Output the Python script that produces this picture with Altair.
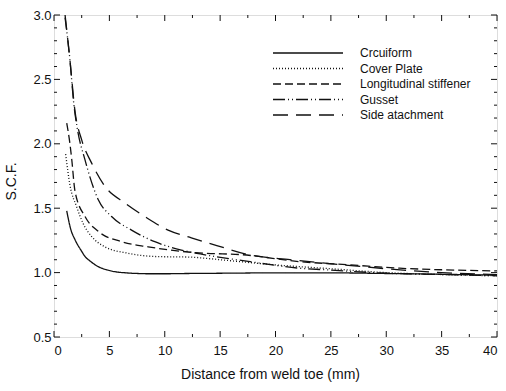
import altair as alt
import pandas as pd

series_names = ["Crcuiform", "Cover Plate", "Longitudinal stiffener", "Gusset", "Side atachment"]

cruciform_x = [1.15, 1.5, 1.9, 2.5, 2.8, 3.25, 4.0, 4.75, 5.5, 6.5, 7.6, 8.5, 10, 12, 15, 20, 25, 30, 35, 40]
cruciform_y = [1.48, 1.34, 1.255, 1.165, 1.125, 1.09, 1.046, 1.022, 1.007, 0.998, 0.993, 0.991, 0.991, 0.993, 0.995, 0.998, 0.998, 0.993, 0.987, 0.98]

cover_x = [1.05, 1.44, 2.05, 2.64, 3.4, 4.6, 6.7, 9.1, 12.4, 13.8, 16.8, 20, 25, 30, 35, 40]
cover_y = [1.92, 1.68, 1.51, 1.38, 1.28, 1.20, 1.15, 1.125, 1.12, 1.11, 1.085, 1.06, 1.03, 1.0, 0.985, 0.975]

long_x = [1.15, 1.44, 1.6, 1.9, 2.8, 4.0, 6.1, 8.5, 12.1, 13.8, 16.8, 22.2, 26.7, 31.2, 35, 40]
long_y = [2.16, 2.0, 1.88, 1.63, 1.435, 1.32, 1.24, 1.20, 1.16, 1.15, 1.14, 1.085, 1.06, 1.034, 1.022, 1.013]

gusset_x = [1.0, 1.44, 1.8, 2.1, 2.8, 4.0, 5.2, 7.0, 9.1, 11.5, 13.2, 17.7, 22.2, 24.9, 30, 35, 40]
gusset_y = [2.98, 2.65, 2.3, 2.12, 1.875, 1.565, 1.435, 1.33, 1.24, 1.175, 1.145, 1.085, 1.034, 1.02, 0.995, 0.985, 0.975]

side_x = [1.0, 1.44, 1.9, 2.5, 3.4, 4.6, 6.4, 8.2, 10.3, 12.4, 14.7, 17.7, 21.3, 24.9, 30, 35, 40]
side_y = [3.0, 2.65, 2.25, 2.03, 1.85, 1.67, 1.54, 1.435, 1.33, 1.27, 1.21, 1.137, 1.10, 1.07, 1.03, 1.0, 0.985]

x_major = [0, 5, 10, 15, 20, 25, 30, 35, 40]
x_minor = [2.5, 7.5, 12.5, 17.5, 22.5, 27.5, 32.5, 37.5]
y_major = [0.5, 1.0, 1.5, 2.0, 2.5, 3.0]
y_minor = [0.6, 0.7, 0.8, 0.9, 1.1, 1.2, 1.3, 1.4, 1.6, 1.7, 1.8, 1.9,
           2.1, 2.2, 2.3, 2.4, 2.6, 2.7, 2.8, 2.9]

rows = []
for name, xs, ys in zip(series_names,
                        [cruciform_x, cover_x, long_x, gusset_x, side_x],
                        [cruciform_y, cover_y, long_y, gusset_y, side_y]):
    for xv, yv in zip(xs, ys):
        rows.append({"series": name, "x": xv, "y": yv})
df = pd.DataFrame(rows)
legend_df = pd.DataFrame({"series": series_names})

W, H = 443, 322
FONT = "Liberation Sans"
INK = "#111"

dashes = [[1, 0], [1, 2], [8, 4], [12, 3, 1, 3, 1, 3], [15, 8]]
dash_scale = alt.Scale(domain=series_names, range=dashes)

xscale = alt.Scale(domain=[0, 40], nice=False, zero=False)
yscale = alt.Scale(domain=[0.5, 3.0], nice=False, zero=False)

lines = alt.Chart(df).mark_line(color=INK, strokeWidth=1.3, interpolate="monotone", clip=True).encode(
    x=alt.X("x:Q", scale=xscale,
            axis=alt.Axis(values=x_major, ticks=False, domain=False, grid=False,
                          labelPadding=7, labelFontSize=13, labelFont=FONT, labelColor=INK,
                          title="Distance from weld toe (mm)", titleFont=FONT, titleFontSize=14,
                          titleFontWeight="normal", titleColor=INK, titlePadding=10, titleX=216)),
    y=alt.Y("y:Q", scale=yscale,
            axis=alt.Axis(values=y_major, format=".1f", ticks=False, domain=False, grid=False,
                          labelPadding=3, labelFontSize=13, labelFont=FONT, labelColor=INK,
                          title="S.C.F.", titleFont=FONT, titleFontSize=14,
                          titleFontWeight="normal", titleColor=INK, titlePadding=14, titleY=166)),
    strokeDash=alt.StrokeDash("series:N", scale=dash_scale, legend=None),
)

# manual legend (own point scale for the rows)
row_scale = alt.Scale(domain=series_names, range=[38, 100], type="point", padding=0)
legend_lines = alt.Chart(legend_df).mark_rule(color=INK, strokeWidth=1.3).encode(
    y=alt.Y("series:N", scale=row_scale, axis=None, sort=series_names),
    x=alt.value(219), x2=alt.value(289),
    strokeDash=alt.StrokeDash("series:N", scale=dash_scale, legend=None),
)
legend_text = alt.Chart(legend_df).mark_text(
    align="left", baseline="middle", font=FONT, fontSize=12, color=INK
).encode(
    y=alt.Y("series:N", scale=row_scale, axis=None, sort=series_names),
    x=alt.value(306),
    text="series:N",
)

xmaj = pd.DataFrame({"v": x_major})
xmin = pd.DataFrame({"v": x_minor})
ymaj = pd.DataFrame({"v": y_major})
ymin = pd.DataFrame({"v": y_minor})

def xticks(d, length):
    b = alt.Chart(d).mark_rule(color=INK, strokeWidth=1).encode(
        x=alt.X("v:Q", scale=xscale, axis=None), y=alt.value(H), y2=alt.value(H - length))
    t = alt.Chart(d).mark_rule(color=INK, strokeWidth=1).encode(
        x=alt.X("v:Q", scale=xscale, axis=None), y=alt.value(0), y2=alt.value(length))
    return [b, t]

def yticks(d, length):
    l = alt.Chart(d).mark_rule(color=INK, strokeWidth=1).encode(
        y=alt.Y("v:Q", scale=yscale, axis=None), x=alt.value(0), x2=alt.value(length))
    r = alt.Chart(d).mark_rule(color=INK, strokeWidth=1).encode(
        y=alt.Y("v:Q", scale=yscale, axis=None), x=alt.value(W), x2=alt.value(W - length))
    return [l, r]

layers = [lines] + xticks(xmaj, 6) + xticks(xmin, 3) + yticks(ymaj, 6) + yticks(ymin, 3) \
    + [legend_lines, legend_text]

chart = alt.layer(*layers).resolve_scale(y="independent").resolve_axis(x="independent").properties(
    width=W, height=H,
    autosize=alt.AutoSizeParams(type="none"),
    padding={"left": 54, "top": 15, "right": 9, "bottom": 54},
).configure_view(stroke=INK, strokeWidth=1.2).configure(background="white")

chart.save("out.html", embed_options={"renderer": "svg", "actions": False})
